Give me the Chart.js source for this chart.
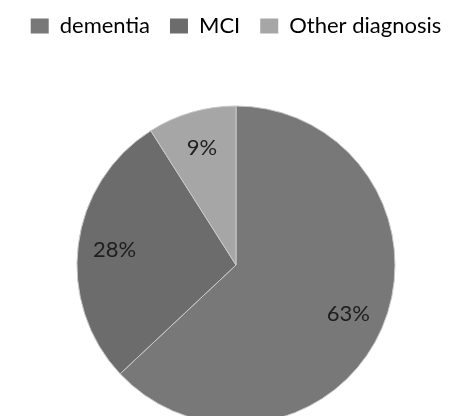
<!DOCTYPE html>
<html>
<head>
<meta charset="utf-8">
<script src="https://cdn.jsdelivr.net/npm/chart.js@4/dist/chart.umd.min.js"></script>
<style>
  html, body { margin: 0; padding: 0; background: #fff; overflow: hidden; }
  #wrap { position: relative; width: 462px; height: 488px; margin-top: -5px; }
</style>
</head>
<body>
<div id="wrap"><canvas id="diagnosisPie"></canvas></div>
<script>
// Diagnosis distribution
const labels = ['dementia', 'MCI', 'Other diagnosis'];
const percentages = [63, 28, 9];
const sliceColors = ['#787878', '#6c6c6c', '#a6a6a6'];

// Simple inline plugin to write the percentage inside each slice
const sliceLabels = {
  id: 'sliceLabels',
  afterDatasetsDraw(chart) {
    const ctx = chart.ctx;
    const meta = chart.getDatasetMeta(0);
    ctx.save();
    ctx.font = '22px Lato, sans-serif';
    ctx.fillStyle = '#1e1e1e';
    ctx.textAlign = 'center';
    ctx.textBaseline = 'middle';
    meta.data.forEach((arc, i) => {
      const p = arc.getProps(['x', 'y', 'startAngle', 'endAngle', 'outerRadius'], true);
      const mid = (p.startAngle + p.endAngle) / 2;
      const r = p.outerRadius * 0.77;
      ctx.fillText(percentages[i] + '%', p.x + Math.cos(mid) * r, p.y + Math.sin(mid) * r);
    });
    ctx.restore();
  }
};

const ctxPie = document.getElementById('diagnosisPie').getContext('2d');
const diagnosisPie = new Chart(ctxPie, {
  type: 'pie',
  data: {
    labels: labels,
    datasets: [{
      data: percentages,
      backgroundColor: sliceColors,
      borderColor: '#c8c8c8',
      borderWidth: 1,
      radius: 159
    }]
  },
  options: {
    responsive: true,
    maintainAspectRatio: false,
    animation: false,
    layout: { padding: { top: 0, bottom: 0, left: 10 } },
    plugins: {
      tooltip: { enabled: false },
      legend: {
        position: 'top',
        labels: {
          boxWidth: 18,
          boxHeight: 15,
          padding: 20,
          color: '#2a2a2a',
          font: { family: 'Lato, sans-serif', size: 22 },
          generateLabels(chart) {
            return labels.map((l, i) => ({
              text: l,
              fillStyle: sliceColors[i],
              strokeStyle: sliceColors[i],
              lineWidth: 0,
              index: i
            }));
          }
        }
      }
    }
  },
  plugins: [sliceLabels]
});
</script>
</body>
</html>
